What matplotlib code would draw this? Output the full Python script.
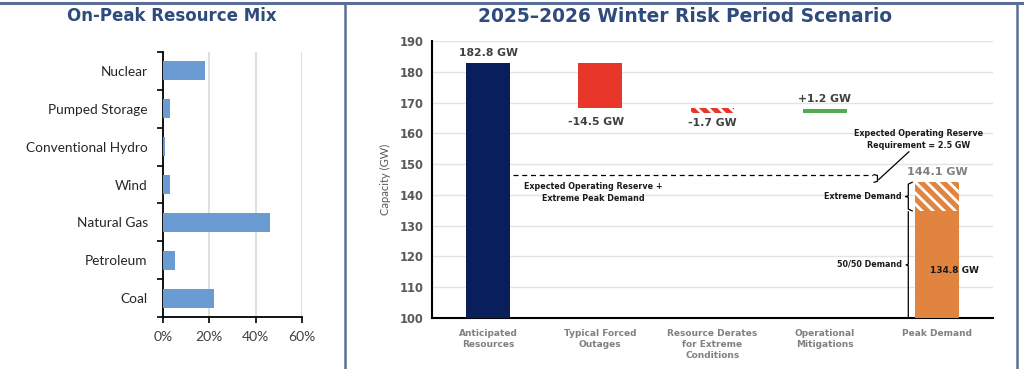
import matplotlib
matplotlib.use("Agg")
import matplotlib.pyplot as plt
from matplotlib.lines import Line2D
import numpy as np

# ---------------- data ----------------
mix_categories = ['Nuclear', 'Pumped Storage', 'Conventional Hydro', 'Wind',
                  'Natural Gas', 'Petroleum', 'Coal']
mix_values = [18, 3, 1, 3, 46, 5, 22]
mix_ticks = [0, 20, 40, 60]

wf_categories = ['Anticipated\nResources', 'Typical Forced\nOutages',
                 'Resource Derates\nfor Extreme\nConditions', 'Operational\nMitigations',
                 'Peak Demand']
anticipated = 182.8
changes = [-14.5, -1.7, 1.2]
change_labels = ['-14.5 GW', '-1.7 GW', '+1.2 GW']
demand_5050 = 134.8
demand_extreme = 144.1
reserve_req = 2.5
wf_yticks = list(range(100, 191, 10))

# ---------------- style ----------------
TITLE_C = '#2F4B7C'
BORDER_C = '#5A6E96'
NAVY = '#081F5C'
RED = '#E8362A'
GREEN = '#4DAE4F'
ORANGE = '#E08440'
BLUE = '#6A9BD3'
plt.rcParams['hatch.linewidth'] = 2.0

fig = plt.figure(figsize=(10.24, 3.69), dpi=100)
W, H = 1024, 369

def ax_rect(x0, y0, x1, y1):
    return [x0 / W, 1 - y1 / H, (x1 - x0) / W, (y1 - y0) / H]

# borders
fig.add_artist(Line2D([0, 1], [1 - 2.5 / H] * 2, color=BORDER_C, lw=2.2, transform=fig.transFigure))
fig.add_artist(Line2D([345 / W] * 2, [0, 1 - 2.5 / H], color=BORDER_C, lw=1.8, transform=fig.transFigure))
fig.add_artist(Line2D([1017 / W] * 2, [0, 1 - 2.5 / H], color=BORDER_C, lw=1.8, transform=fig.transFigure))

# titles
fig.text(172 / W, 1 - 16 / H, 'On-Peak Resource Mix', ha='center', va='center',
         fontsize=12, fontweight='bold', color=TITLE_C, family='DejaVu Sans')
fig.text(685 / W, 1 - 16 / H, '2025\u20132026 Winter Risk Period Scenario', ha='center', va='center',
         fontsize=13.4, fontweight='bold', color=TITLE_C, family='DejaVu Sans')

# ---------------- left chart ----------------
axL = fig.add_axes(ax_rect(163, 52, 302, 317))
ypos = np.arange(len(mix_categories))
axL.barh(ypos, mix_values, height=0.5, color=BLUE, zorder=3)
axL.set_ylim(len(mix_categories) - 0.5, -0.5)
axL.set_xlim(0, 60)
axL.set_xticks(mix_ticks)
axL.set_xticklabels([f'{t}%' for t in mix_ticks], family='Lato', fontsize=10, color='#404040')
axL.set_yticks(ypos)
axL.set_yticklabels(mix_categories, family='Lato', fontsize=9.8, color='#262626')
axL.set_yticks(np.arange(-0.5, len(mix_categories), 1), minor=True)
axL.tick_params(axis='y', which='major', length=0, pad=11)
axL.tick_params(axis='y', which='minor', length=4, width=1.2, color='black')
axL.tick_params(axis='x', length=4, width=1.2, color='black', pad=6)
axL.grid(axis='x', color='#D9D9D9', lw=1.2, zorder=0)
for s in ['top', 'right']:
    axL.spines[s].set_visible(False)
for s in ['left', 'bottom']:
    axL.spines[s].set_linewidth(1.3)
    axL.spines[s].set_color('black')

# ---------------- right chart ----------------
axR = fig.add_axes(ax_rect(432, 41, 993, 318))
xpos = np.arange(len(wf_categories))
bw = 0.39

# anticipated resources
axR.bar(xpos[0], anticipated - 100, bottom=100, width=bw, color=NAVY, zorder=3)
# waterfall changes
level = anticipated
for i, ch in enumerate(changes):
    new = level + ch
    lo, hi = min(level, new), max(level, new)
    if i == 0:
        axR.bar(xpos[1], hi - lo, bottom=lo, width=bw, color=RED, zorder=3)
    elif i == 1:
        axR.bar(xpos[2], hi - lo, bottom=lo, width=bw, facecolor=RED, edgecolor='white',
                hatch='\\\\\\', lw=0, zorder=3)
    else:
        axR.bar(xpos[3], hi - lo, bottom=lo, width=bw, color=GREEN, zorder=3)
    level = new

# peak demand
axR.bar(xpos[4], demand_5050 - 100, bottom=100, width=bw, color=ORANGE, zorder=3)
axR.bar(xpos[4], demand_extreme - demand_5050, bottom=demand_5050, width=bw,
        facecolor=ORANGE, edgecolor='white', hatch='\\\\\\', lw=0, zorder=3)

axR.set_ylim(100, 190)
axR.set_xlim(-0.5, len(wf_categories) - 0.5)
axR.set_yticks(wf_yticks)
axR.set_yticklabels([str(t) for t in wf_yticks], fontsize=8.3, fontweight='bold', color='#595959')
axR.set_xticks(xpos)
axR.set_xticklabels(wf_categories, fontsize=6.5, fontweight='bold', color='#808080', linespacing=1.25)
axR.tick_params(length=0)
axR.tick_params(axis='x', pad=8)
axR.tick_params(axis='y', pad=6)
axR.grid(axis='y', color='#E3E3E3', lw=1.0, zorder=0)
for s in ['top', 'right']:
    axR.spines[s].set_visible(False)
for s in ['left', 'bottom']:
    axR.spines[s].set_linewidth(1.5)
    axR.spines[s].set_color('black')
axR.set_ylabel('Capacity (GW)', family='Lato', fontsize=8, color='#595959', labelpad=6)

# value labels
axR.text(xpos[0], anticipated + 3.4, f'{anticipated} GW', ha='center', va='center',
         fontsize=7.8, fontweight='bold', color='#404040')
label_y = [163.8, 163.3, 171.2]
for i, (lab, yy) in enumerate(zip(change_labels, label_y)):
    axR.text(xpos[i + 1] - (0.04 if i == 0 else 0), yy, lab, ha='center', va='center',
             fontsize=7.8, fontweight='bold', color='#404040')
axR.text(xpos[4], demand_extreme + 3.3, f'{demand_extreme} GW', ha='center', va='center',
         fontsize=8, fontweight='bold', color='#808080')
axR.text(xpos[4] + 0.16, 115.3, f'{demand_5050} GW', ha='center', va='center',
         fontsize=6.5, fontweight='bold', color='#1a1a1a', zorder=5)

# dashed line: reserve + extreme demand
dash_y = demand_extreme + reserve_req
axR.plot([0.22, 3.43], [dash_y, dash_y], ls=(0, (4, 3)), color='black', lw=0.9, zorder=4)
axR.text(0.94, 140.7, 'Expected Operating Reserve +\nExtreme Peak Demand', ha='center', va='center',
         fontsize=5.8, fontweight='bold', color='#1a1a1a', linespacing=1.5)

def brace(ax, x, y0, y1, w, tip=0.06):
    ym = (y0 + y1) / 2
    d = min(0.6, (y1 - y0) * 0.12)
    xs = [x + w, x, x, x - tip, x, x, x + w]
    ys = [y0, y0 + d, ym - d * 0.4, ym, ym + d * 0.4, y1 - d, y1]
    ax.plot(xs, ys, color='black', lw=0.9, zorder=4, solid_joinstyle='round')

# small reserve bracket (right-facing)
bx = 3.47
axR.plot([bx - 0.03, bx, bx, bx - 0.03], [dash_y, dash_y - 0.3, demand_extreme + 0.3, demand_extreme],
         color='black', lw=0.9, zorder=4)
axR.plot([bx + 0.01, 3.75], [(dash_y + demand_extreme) / 2 - 0.4, 154.0], color='black', lw=0.9, zorder=4)
axR.text(3.84, 158.0, 'Expected Operating Reserve\nRequirement = 2.5 GW', ha='center', va='center',
         fontsize=5.8, fontweight='bold', color='#1a1a1a', linespacing=1.5)

# extreme demand brace & 50/50 line
bxd = 3.745
brace(axR, bxd, demand_5050, demand_extreme, 0.035, tip=0.025)
brace(axR, bxd, 100, demand_5050 - 0.3, 0.0, tip=0.02)
axR.text(bxd - 0.06, (demand_5050 + demand_extreme) / 2, 'Extreme Demand', ha='right', va='center',
         fontsize=5.8, fontweight='bold', color='#1a1a1a')
axR.text(bxd - 0.06, (100 + demand_5050) / 2, '50/50 Demand', ha='right', va='center',
         fontsize=5.8, fontweight='bold', color='#1a1a1a')

fig.savefig('out.png', dpi=100)
